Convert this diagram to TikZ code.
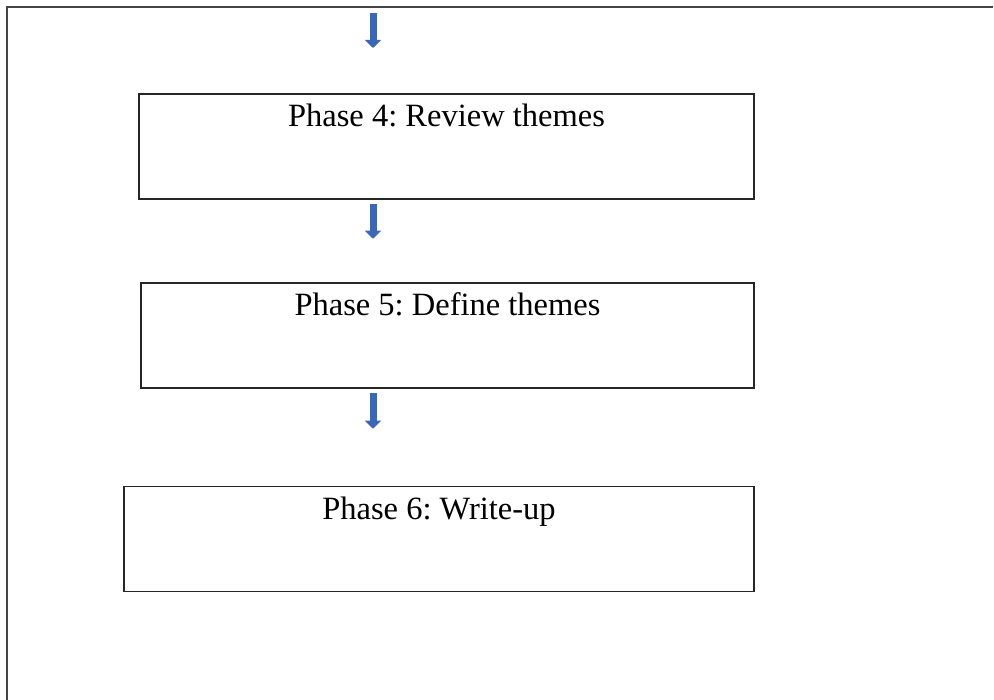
\documentclass[tikz,border=0pt]{standalone}
\usepackage{fontspec}
\setmainfont{Liberation Serif}
\usetikzlibrary{arrows.meta, positioning, calc}
\definecolor{arrowblue}{HTML}{3D67B5}
\definecolor{framegray}{HTML}{454545}
\frenchspacing

\begin{document}
\begin{tikzpicture}[x=1pt, y=-1pt,
  phase/.style={draw=black!85, line width=1.5pt, rectangle, inner sep=0pt,
    text height=33pt, text depth=72pt, font=\fontsize{32.5}{38}\selectfont},
  downarrow/.style={draw=arrowblue, line width=7pt,
    -{Triangle[width=16pt,length=8pt]}}]
  \useasboundingbox (0,0) rectangle (994,700);

  %--- page frame (top and left edge only) ---
  \draw[framegray, line width=2pt] (7,700) -- (7,7) -- (993,7);

  %--- phase boxes ---
  \node[phase, minimum width=615pt] (p4) at (446.5,146.5) {Phase 4: Review themes};
  \node[phase, minimum width=613pt] (p5) at (447.5,335.5) {Phase 5: Define themes};
  \node[phase, minimum width=630pt] (p6) at (439,539)     {Phase 6: Write-up};

  %--- arrows (off-centre, as in the original) ---
  \coordinate (a0)  at (373,13);
  \coordinate (a0e) at (373,48);
  \path (p4.south -| a0) ++(0,4) coordinate (a1) ++(0,35) coordinate (a1e);
  \path (p5.south -| a0) ++(0,4) coordinate (a2) ++(0,36) coordinate (a2e);
  \draw[downarrow] (a0) -- (a0e);
  \draw[downarrow] (a1) -- (a1e);
  \draw[downarrow] (a2) -- (a2e);
\end{tikzpicture}
\end{document}
